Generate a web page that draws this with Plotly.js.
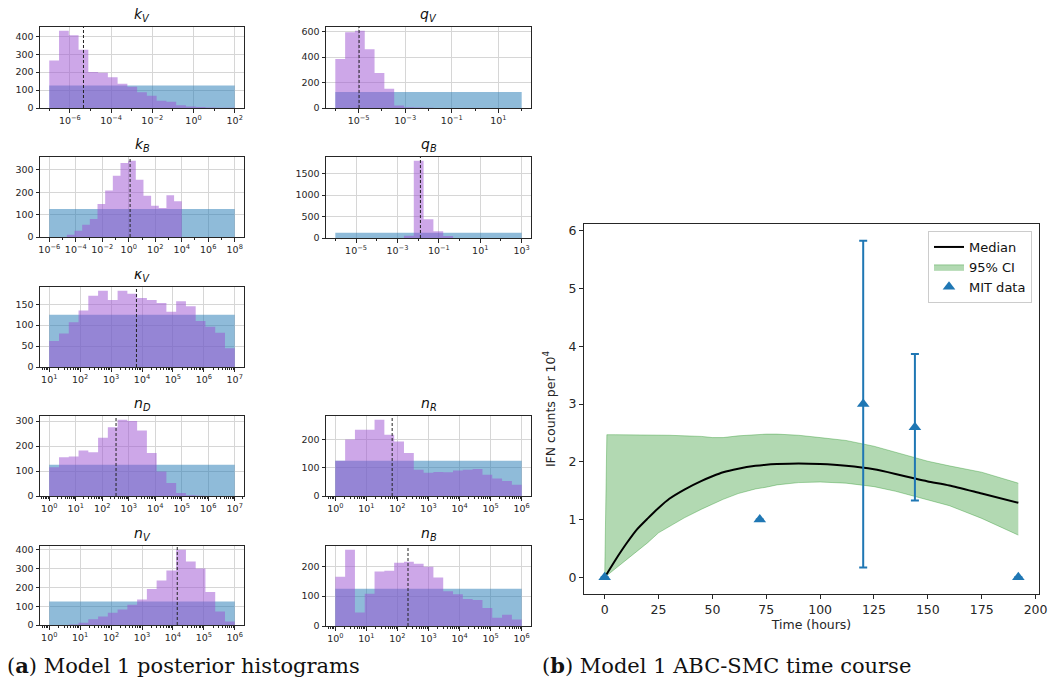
<!DOCTYPE html>
<html><head><meta charset="utf-8">
<script src="https://cdn.plot.ly/plotly-3.0.1.min.js"></script>
<style>html,body{margin:0;padding:0;background:#fff}#plot{width:1062px;height:686px}</style>
</head><body><div id="plot"></div>
<script>
const W = 1062, H = 686;

// ---------- histogram panels (x values are log10 exponents) ----------
const panelTitles = ['<i>k</i><sub><i>V</i></sub>', '<i>q</i><sub><i>V</i></sub>', '<i>k</i><sub><i>B</i></sub>', '<i>q</i><sub><i>B</i></sub>', '<i>κ</i><sub><i>V</i></sub>', '<i>n</i><sub><i>D</i></sub>', '<i>n</i><sub><i>R</i></sub>', '<i>n</i><sub><i>V</i></sub>', '<i>n</i><sub><i>B</i></sub>'];
const priorRanges = [[-7, 2], [-6, 2], [-6, 8], [-6, 3], [1, 7], [0, 7], [0, 6], [0, 6], [0, 6]];
const priorCounts = [125, 125, 125, 125, 125, 125, 125, 125, 125];
const postRanges = [[-7, 2], [-6, 2], [-4.67, 4.0], [-2.684, -0.316], [1, 7], [0, 7], [0, 6], [0, 6], [0, 6]];
const kV_post = [265, 430, 405, 325, 200, 197, 172, 135, 118, 88, 68, 40, 35, 15, 8, 6, 3, 2, 1];
const qV_post = [385, 595, 605, 460, 275, 150, 20, 5, 3, 2, 0, 0, 0, 0, 0, 0, 0, 0, 0];
const kB_post = [10, 28, 55, 80, 147, 207, 273, 330, 340, 255, 184, 140, 129, 186, 159];
const qB_post = [55, 1800, 440, 160, 45];
const kappaV_post = [62, 80, 107, 135, 170, 182, 160, 182, 175, 165, 160, 153, 132, 157, 145, 110, 96, 82, 45];
const nD_post = [115, 155, 158, 182, 175, 233, 275, 305, 300, 262, 172, 98, 52, 12, 3, 1, 0, 0, 0];
const nR_post = [125, 200, 235, 235, 270, 217, 193, 152, 93, 82, 85, 84, 90, 93, 96, 75, 62, 53, 40];
const nV_post = [0, 0, 3, 12, 30, 45, 65, 82, 108, 135, 192, 237, 290, 400, 337, 300, 175, 72, 18];
const nB_post = [165, 255, 45, 108, 182, 185, 212, 215, 208, 198, 162, 116, 106, 90, 87, 60, 28, 38, 22];
const posteriorMedians = [-5.34, -4.98, 0.1, -1.89, 3.82, 2.52, 1.83, 4.14, 2.34];
const xTickExps = [[-6, -4, -2, 0, 2], [-5, -3, -1, 1], [-6, -4, -2, 0, 2, 4, 6, 8], [-5, -3, -1, 1, 3], [1, 2, 3, 4, 5, 6, 7], [0, 1, 2, 3, 4, 5, 6, 7], [0, 1, 2, 3, 4, 5, 6], [0, 1, 2, 3, 4, 5, 6], [0, 1, 2, 3, 4, 5, 6]];
const yTicks = [[0, 100, 200, 300, 400], [0, 200, 400, 600], [0, 100, 200, 300], [0, 500, 1000, 1500], [0, 50, 100, 150], [0, 100, 200, 300], [0, 100, 200], [0, 100, 200, 300, 400], [0, 100, 200]];

// ---------- time course ----------
const timeHours = [0, 1, 5, 10, 15, 20, 25, 30, 37, 45, 50, 55, 62, 70, 75, 80, 90, 100, 112, 125, 135, 144, 150, 160, 175, 192];
const ciUpper   = [0, 2.47, 2.47, 2.47, 2.47, 2.46, 2.46, 2.46, 2.45, 2.44, 2.42, 2.42, 2.45, 2.47, 2.48, 2.48, 2.46, 2.42, 2.37, 2.27, 2.17, 2.07, 2.01, 1.93, 1.82, 1.63];
const ciLower   = [0, 0.03, 0.15, 0.30, 0.45, 0.60, 0.77, 0.88, 1.03, 1.18, 1.27, 1.35, 1.45, 1.53, 1.56, 1.60, 1.64, 1.65, 1.63, 1.57, 1.49, 1.40, 1.35, 1.24, 1.02, 0.73];
const medianIFN = [0, 0.06, 0.30, 0.58, 0.83, 1.02, 1.20, 1.36, 1.52, 1.67, 1.75, 1.82, 1.88, 1.93, 1.95, 1.96, 1.97, 1.96, 1.93, 1.87, 1.79, 1.71, 1.66, 1.59, 1.45, 1.29];
const mitTime = [0, 72, 120, 144, 192];
const mitIFN  = [0, 1, 3, 2.6, 0];
const mitErr  = [0, 0, 2.83, 1.27, 0];
const timeTicks = [0, 25, 50, 75, 100, 125, 150, 175, 200];
const ifnTicks = [0, 1, 2, 3, 4, 5, 6];

const FONT = 'DejaVu Sans, sans-serif';
const AX = '#262626';
const posts = [kV_post, qV_post, kB_post, qB_post, kappaV_post, nD_post, nR_post, nV_post, nB_post];
// panel boxes in pixels: [left, right, top, bottom]
const boxes = [[40, 244, 27, 108], [326, 531, 27, 108], [40, 244, 157, 237], [326, 531, 157, 238], [40, 244, 287, 367], [40, 244, 416, 496], [326, 531, 416, 496], [40, 244, 546, 625], [326, 531, 546, 626]];

const traces = [], shapes = [], annotations = [];
const layout = {
  width: W, height: H, margin: {l: 0, r: 0, t: 0, b: 0},
  paper_bgcolor: '#fff', plot_bgcolor: '#fff', showlegend: true,
  font: {family: FONT, color: AX}
};
function expLabel(e) { return '10<sup>' + (e < 0 ? '−' + (-e) : e) + '</sup>'; }

posts.forEach((cnt, i) => {
  const n = i + 1;
  const xa = 'x' + n, ya = 'y' + n;
  const [plo, phi] = priorRanges[i];
  traces.push({type: 'scatter', mode: 'lines', x: [plo, phi], y: [priorCounts[i], priorCounts[i]],
    line: {width: 0, shape: 'hv'}, fill: 'tozeroy', fillcolor: 'rgba(31,119,180,0.5)',
    xaxis: xa, yaxis: ya, showlegend: false, hoverinfo: 'skip'});
  const [lo, hi] = postRanges[i];
  const nb = cnt.length, w = (hi - lo) / nb;
  const xs = [], ys = [];
  for (let k = 0; k <= nb; k++) { xs.push(lo + k * w); ys.push(cnt[Math.min(k, nb - 1)]); }
  traces.push({type: 'scatter', mode: 'lines', x: xs, y: ys,
    line: {width: 0, shape: 'hv'}, fill: 'tozeroy', fillcolor: 'rgba(155,80,210,0.5)',
    xaxis: xa, yaxis: ya, showlegend: false, hoverinfo: 'skip'});

  const b = boxes[i];
  const span = phi - plo;
  const xr = [plo - 0.05 * span, phi + 0.05 * span];
  const ymax = 1.05 * Math.max(...cnt, priorCounts[i]);
  const te = xTickExps[i];
  const step = te[1] - te[0];
  const minor = [];
  if (step === 1) {
    for (let d = Math.floor(xr[0]); d <= Math.ceil(xr[1]); d++)
      for (let m = 2; m <= 9; m++) { const v = d + Math.log10(m); if (v > xr[0] && v < xr[1]) minor.push(v); }
  } else {
    for (let d = Math.floor(xr[0]); d <= Math.ceil(xr[1]); d++) if (!te.includes(d) && d > xr[0] && d < xr[1]) minor.push(d);
  }
  layout['xaxis' + n] = {
    domain: [b[0] / W, b[1] / W], anchor: ya, range: xr,
    tickmode: 'array', tickvals: te, ticktext: te.map(expLabel),
    showgrid: true, gridcolor: '#d6d6d6', gridwidth: 1, zeroline: false,
    showline: true, mirror: true, linecolor: AX, linewidth: 1,
    ticks: 'outside', ticklen: 3.5, tickcolor: AX, tickwidth: 1,
    tickfont: {size: 9.5, family: FONT, color: AX},
    minor: {tickmode: 'array', tickvals: minor, ticks: 'outside', ticklen: 2, tickcolor: AX, showgrid: false},
    fixedrange: true
  };
  layout['yaxis' + n] = {
    domain: [1 - b[3] / H, 1 - b[2] / H], anchor: xa, range: [0, ymax],
    tickmode: 'array', tickvals: yTicks[i],
    showgrid: true, gridcolor: '#d6d6d6', gridwidth: 1, zeroline: false,
    showline: true, mirror: true, linecolor: AX, linewidth: 1,
    ticks: 'outside', ticklen: 3.5, tickcolor: AX, tickwidth: 1,
    tickfont: {size: 9.5, family: FONT, color: AX}, fixedrange: true
  };
  shapes.push({type: 'line', xref: xa, yref: ya + ' domain', x0: posteriorMedians[i], x1: posteriorMedians[i], y0: 0, y1: 1,
    line: {color: '#222', width: 1, dash: '3px,2px'}, layer: 'above'});
  annotations.push({text: panelTitles[i], xref: 'paper', yref: 'paper', x: (b[0] + b[1]) / 2 / W, y: 1 - (b[2] - 1) / H,
    xanchor: 'center', yanchor: 'bottom', showarrow: false, font: {size: 14, family: FONT, color: '#111'}});
});

// ---------- time-course panel ----------
const xa10 = 'x10', ya10 = 'y10';
traces.push({type: 'scatter', mode: 'lines', x: timeHours, y: ciLower, line: {color: 'rgba(0,128,0,0.3)', width: 1},
  xaxis: xa10, yaxis: ya10, showlegend: false, hoverinfo: 'skip'});
traces.push({type: 'scatter', mode: 'lines', x: timeHours, y: ciUpper, line: {color: 'rgba(0,128,0,0.3)', width: 1},
  fill: 'tonexty', fillcolor: 'rgba(0,128,0,0.3)', name: '95% CI', legendrank: 2, xaxis: xa10, yaxis: ya10});
traces.push({type: 'scatter', mode: 'lines', x: timeHours, y: medianIFN, line: {color: '#000', width: 2, shape: 'spline', smoothing: 0.6},
  name: 'Median', legendrank: 1, xaxis: xa10, yaxis: ya10});
traces.push({type: 'scatter', mode: 'markers', x: mitTime, y: mitIFN,
  marker: {symbol: 'triangle-up', size: 11, color: '#1f77b4'},
  error_y: {type: 'data', array: mitErr, visible: true, color: '#1f77b4', thickness: 2, width: 4},
  name: 'MIT data', legendrank: 3, xaxis: xa10, yaxis: ya10});

layout.xaxis10 = {
  domain: [584 / W, 1039 / W], anchor: ya10, range: [-9.6, 201.6],
  tickmode: 'array', tickvals: timeTicks, showgrid: false, zeroline: false,
  showline: true, mirror: true, linecolor: AX, linewidth: 1,
  ticks: 'outside', ticklen: 4, tickcolor: AX, tickfont: {size: 12.5, family: FONT, color: AX},
  title: {text: 'Time (hours)', font: {size: 12.5, family: FONT, color: AX}, standoff: 3}, fixedrange: true
};
layout.yaxis10 = {
  domain: [1 - 594 / H, 1 - 224 / H], anchor: xa10, range: [-0.29, 6.12],
  tickmode: 'array', tickvals: ifnTicks, showgrid: false, zeroline: false,
  showline: true, mirror: true, linecolor: AX, linewidth: 1,
  ticks: 'outside', ticklen: 4, tickcolor: AX, tickfont: {size: 12.5, family: FONT, color: AX},
  title: {text: 'IFN counts per 10<sup>4</sup>', font: {size: 12.5, family: FONT, color: AX}, standoff: 10}, fixedrange: true
};
layout.legend = {x: 1032 / W, xanchor: 'right', y: 1 - 231 / H, yanchor: 'top', traceorder: 'normal',
  bgcolor: 'rgba(255,255,255,0.85)', bordercolor: '#cccccc', borderwidth: 1,
  font: {size: 13, family: FONT, color: '#111'}, tracegroupgap: 4};

// captions
annotations.push({text: '(<b>a</b>) Model 1 posterior histograms', xref: 'paper', yref: 'paper', x: 5 / W, y: 1 - 665 / H,
  xanchor: 'left', yanchor: 'middle', showarrow: false, font: {size: 21, family: 'DejaVu Serif, serif', color: '#111'}});
annotations.push({text: '(<b>b</b>) Model 1 ABC-SMC time course', xref: 'paper', yref: 'paper', x: 540 / W, y: 1 - 665 / H,
  xanchor: 'left', yanchor: 'middle', showarrow: false, font: {size: 21, family: 'DejaVu Serif, serif', color: '#111'}});

layout.shapes = shapes;
layout.annotations = annotations;
Plotly.newPlot('plot', traces, layout, {displayModeBar: false, staticPlot: true});
</script>
</body></html>
